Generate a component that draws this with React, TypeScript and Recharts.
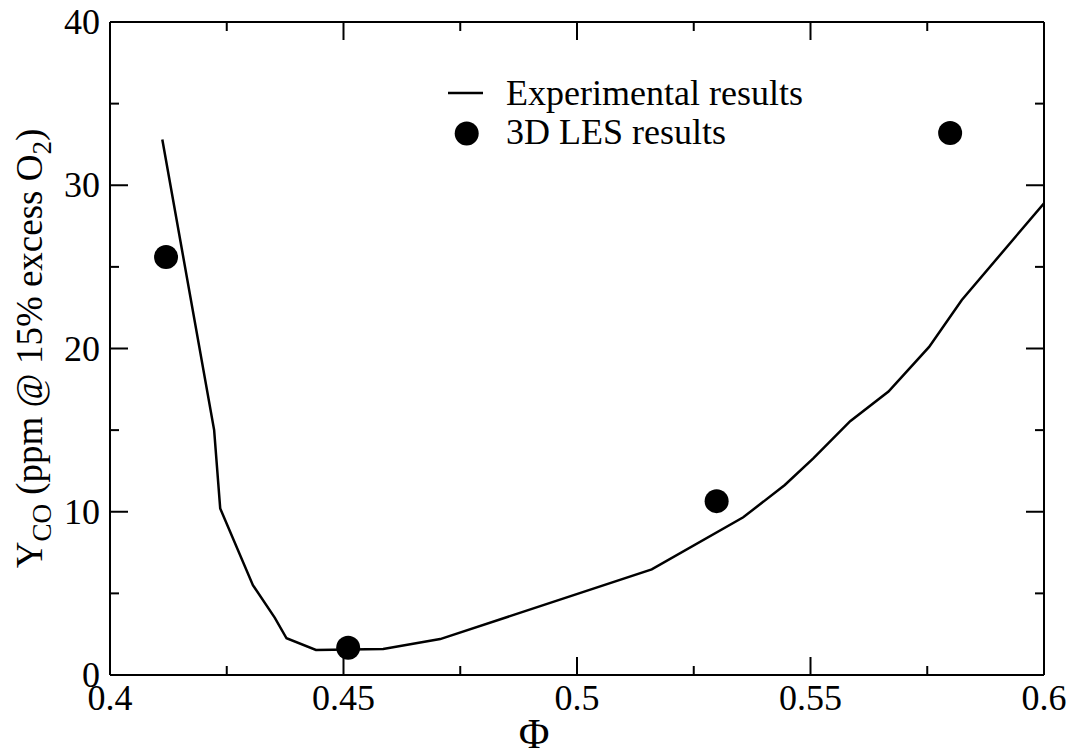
import React from 'react';
import { ComposedChart, Line, Scatter, XAxis, YAxis, Legend } from 'recharts';

const expPhi = [0.4112, 0.4223, 0.4236, 0.4306, 0.4353, 0.4378, 0.4441, 0.4585, 0.4707, 0.516, 0.5356, 0.5445, 0.5506, 0.5585, 0.5667, 0.5754, 0.5824, 0.6];
const expYco = [32.8, 15.0, 10.2, 5.5, 3.5, 2.25, 1.53, 1.6, 2.2, 6.47, 9.66, 11.64, 13.27, 15.55, 17.36, 20.1, 22.97, 28.9];
const lesPhi = [0.412, 0.451, 0.5299, 0.5799];
const lesYco = [25.6, 1.67, 10.65, 33.2];

const xTicks = [0.4, 0.425, 0.45, 0.475, 0.5, 0.525, 0.55, 0.575, 0.6];
const xMajor = [0.4, 0.45, 0.5, 0.55, 0.6];
const yTicks = [0, 5, 10, 15, 20, 25, 30, 35, 40];
const yMajor = [0, 10, 20, 30, 40];

const expData = expPhi.map((x, i) => ({ x, y: expYco[i] }));
const lesData = lesPhi.map((x, i) => ({ x, y: lesYco[i] }));

const FONT = '"Liberation Serif", "Times New Roman", serif';
const FS = 36;
const isMajor = (v: number, list: number[]) => list.some((m) => Math.abs(m - v) < 1e-9);

const BottomTick = (p: any) => {
  const major = isMajor(p.payload.value, xMajor);
  return (
    <g>
      <line x1={p.x} x2={p.x} y1={p.y} y2={p.y - (major ? 18 : 9)} stroke="#000" strokeWidth={2} />
      {major && (
        <text x={p.x} y={p.y + 35} textAnchor="middle" fontFamily={FONT} fontSize={FS} fill="#000">
          {String(p.payload.value)}
        </text>
      )}
    </g>
  );
};
const TopTick = (p: any) => {
  const major = isMajor(p.payload.value, xMajor);
  return <line x1={p.x} x2={p.x} y1={p.y} y2={p.y + (major ? 18 : 9)} stroke="#000" strokeWidth={2} />;
};
const LeftTick = (p: any) => {
  const major = isMajor(p.payload.value, yMajor);
  return (
    <g>
      <line x1={p.x} x2={p.x + (major ? 18 : 9)} y1={p.y} y2={p.y} stroke="#000" strokeWidth={2} />
      {major && (
        <text x={p.x - 10} y={p.y + 12} textAnchor="end" fontFamily={FONT} fontSize={FS} fill="#000">
          {String(p.payload.value)}
        </text>
      )}
    </g>
  );
};
const RightTick = (p: any) => {
  const major = isMajor(p.payload.value, yMajor);
  return <line x1={p.x} x2={p.x - (major ? 18 : 9)} y1={p.y} y2={p.y} stroke="#000" strokeWidth={2} />;
};

const YLabel = (p: any) => {
  const vb = p.viewBox || {};
  const cx = (vb.x ?? 109) + (vb.width ?? 1) - 68;
  const cy = (vb.y ?? 22) + (vb.height ?? 653) / 2;
  return (
    <text
      x={cx}
      y={cy}
      transform={`rotate(-90, ${cx}, ${cy})`}
      textAnchor="middle"
      fontFamily={FONT}
      fontSize={37}
      fill="#000"
    >
      <tspan>Y</tspan>
      <tspan dy={9} fontSize={27}>CO</tspan>
      <tspan dy={-9}> (ppm @ 15% excess O</tspan>
      <tspan dy={9} fontSize={27}>2</tspan>
      <tspan dy={-9}>)</tspan>
    </text>
  );
};

const XLabel = (p: any) => {
  const vb = p.viewBox || {};
  const cx = (vb.x ?? 110) + (vb.width ?? 934) / 2 - 43;
  const cy = (vb.y ?? 675) + 73;
  return (
    <text x={cx} y={cy} textAnchor="middle" fontFamily={FONT} fontSize={42} fill="#000">
      Φ
    </text>
  );
};

const LegendContent = () => (
  <svg width={420} height={100} style={{ display: 'block' }}>
    <line x1={8} x2={43} y1={33} y2={33} stroke="#000" strokeWidth={2.5} />
    <text x={66} y={45} fontFamily={FONT} fontSize={FS} fill="#000">Experimental results</text>
    <circle cx={26.7} cy={73.5} r={12} fill="#000" />
    <text x={66} y={84} fontFamily={FONT} fontSize={FS} fill="#000">3D LES results</text>
  </svg>
);

const Dot = (p: any) => <circle cx={p.cx} cy={p.cy} r={12} fill="#000" />;

export default function App() {
  return (
    <div style={{ position: 'absolute', left: 0, top: 0, background: '#fff' }}>
      <ComposedChart width={1075} height={755} margin={{ top: 21, right: 30, bottom: 79, left: 109 }}>
        <XAxis
          xAxisId={0}
          dataKey="x"
          type="number"
          domain={[0.4, 0.6]}
          ticks={xTicks}
          interval={0}
          allowDataOverflow
          height={1}
          tickSize={0}
          tickMargin={0}
          tickLine={false}
          tick={<BottomTick />}
          axisLine={{ stroke: '#000', strokeWidth: 2 }}
          label={<XLabel />}
        />
        <XAxis
          xAxisId="top"
          orientation="top"
          dataKey="x"
          type="number"
          domain={[0.4, 0.6]}
          ticks={xTicks}
          interval={0}
          allowDataOverflow
          height={1}
          tickSize={0}
          tickMargin={0}
          tickLine={false}
          tick={<TopTick />}
          axisLine={{ stroke: '#000', strokeWidth: 2 }}
        />
        <YAxis
          yAxisId={0}
          type="number"
          domain={[0, 40]}
          ticks={yTicks}
          interval={0}
          allowDataOverflow
          width={1}
          tickSize={0}
          tickMargin={0}
          tickLine={false}
          tick={<LeftTick />}
          axisLine={{ stroke: '#000', strokeWidth: 2 }}
          label={<YLabel />}
        />
        <YAxis
          yAxisId="right"
          orientation="right"
          type="number"
          domain={[0, 40]}
          ticks={yTicks}
          interval={0}
          allowDataOverflow
          width={1}
          tickSize={0}
          tickMargin={0}
          tickLine={false}
          tick={<RightTick />}
          axisLine={{ stroke: '#000', strokeWidth: 2 }}
        />
        <Legend
          layout="horizontal"
          verticalAlign="middle"
          align="center"
          content={<LegendContent />}
          wrapperStyle={{ left: 440, top: 60, width: 420, height: 100 }}
        />
        <Line
          data={expData}
          dataKey="y"
          type="linear"
          stroke="#000"
          strokeWidth={2.5}
          dot={false}
          activeDot={false}
          isAnimationActive={false}
          legendType="line"
          name="Experimental results"
        />
        <Scatter
          data={lesData}
          dataKey="y"
          fill="#000"
          shape={<Dot />}
          isAnimationActive={false}
          name="3D LES results"
        />
      </ComposedChart>
    </div>
  );
}
